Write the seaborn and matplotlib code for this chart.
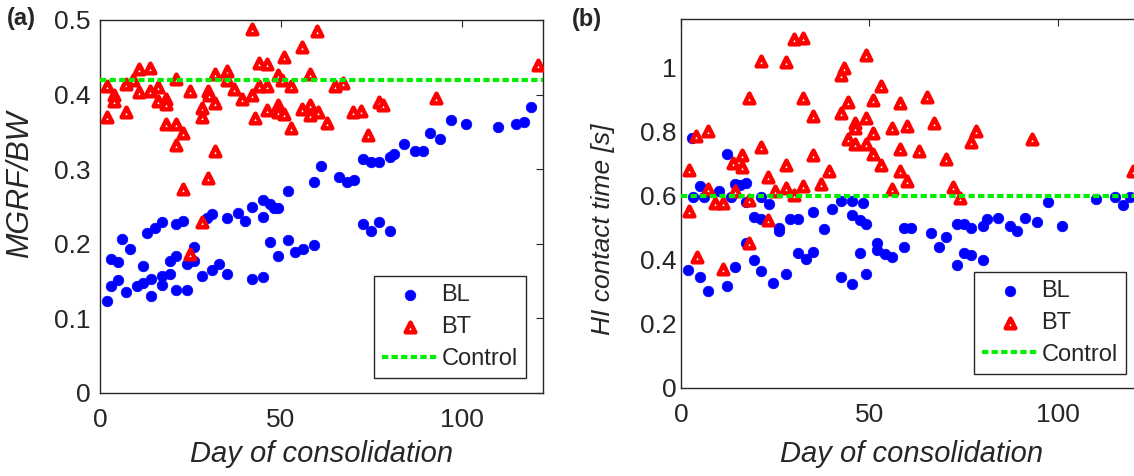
import matplotlib
matplotlib.use("Agg")
import matplotlib.pyplot as plt
import seaborn as sns
import numpy as np

# panel (a): MGRF/BW
bl_day_a = [1.8, 2.9, 2.9, 5.1, 5.1, 6.1, 7.1, 8.2, 10.1, 11.8, 11.9, 14.0, 14.0, 13.0, 15.1, 17.1, 17.0, 17.1,
            19.2, 19.2, 20.9, 20.9, 20.9, 23.0, 23.9, 23.9, 26.1, 26.1, 28.2, 30.8, 30.8, 33.0, 35.0, 35.0, 38.0,
            40.1, 41.9, 41.9, 44.9, 44.9, 44.9, 47.0, 48.2, 49.3, 47.0, 49.3, 51.9, 51.9, 54.0, 56.0, 59.1, 59.1,
            61.1, 66.0, 68.1, 70.2, 72.7, 74.9, 77.1, 80.0, 81.2, 84.0, 87.0, 89.1, 91.1, 93.9, 97.0, 101.0,
            110.0, 114.8, 117.0, 119.0, 72.7, 74.9, 77.1, 80.0, 29.5]
bl_mgrf = [0.123, 0.144, 0.180, 0.151, 0.176, 0.207, 0.136, 0.193, 0.144, 0.148, 0.170, 0.130, 0.153, 0.215,
           0.221, 0.229, 0.145, 0.157, 0.160, 0.177, 0.138, 0.184, 0.226, 0.230, 0.138, 0.173, 0.177, 0.196,
           0.157, 0.240, 0.165, 0.173, 0.159, 0.234, 0.241, 0.231, 0.249, 0.153, 0.155, 0.259, 0.236, 0.253,
           0.248, 0.248, 0.203, 0.183, 0.205, 0.271, 0.189, 0.193, 0.199, 0.283, 0.304, 0.290, 0.283, 0.286,
           0.313, 0.309, 0.309, 0.316, 0.321, 0.334, 0.324, 0.324, 0.348, 0.341, 0.366, 0.361, 0.357, 0.361,
           0.363, 0.383, 0.227, 0.217, 0.229, 0.217, 0.234]
bt_day_a = [1.8, 1.8, 3.9, 3.9, 7.1, 7.1, 9.0, 10.8, 10.8, 13.8, 13.8, 16.1, 16.1, 18.1, 18.1, 18.1, 21.0, 21.0,
            21.0, 23.0, 23.0, 24.9, 24.9, 28.2, 28.2, 28.2, 29.9, 30.2, 29.9, 31.9, 31.9, 31.9, 35.0, 35.0, 37.0,
            39.1, 41.9, 41.9, 42.8, 43.8, 43.8, 46.2, 46.2, 46.0, 49.1, 49.1, 49.1, 50.2, 50.9, 50.7, 52.8, 52.8,
            55.8, 55.8, 57.9, 57.9, 57.9, 60.0, 60.3, 62.6, 64.9, 67.2, 69.8, 72.0, 73.9, 77.0, 78.1, 92.8, 121.1]
bt_mgrf = [0.412, 0.370, 0.400, 0.391, 0.414, 0.376, 0.420, 0.434, 0.404, 0.436, 0.405, 0.410, 0.391, 0.394,
           0.387, 0.360, 0.421, 0.360, 0.333, 0.349, 0.273, 0.405, 0.186, 0.382, 0.370, 0.229, 0.405, 0.400,
           0.288, 0.427, 0.389, 0.325, 0.432, 0.419, 0.408, 0.394, 0.488, 0.399, 0.369, 0.442, 0.412, 0.441,
           0.412, 0.380, 0.426, 0.386, 0.377, 0.420, 0.374, 0.451, 0.412, 0.355, 0.464, 0.381, 0.428, 0.386,
           0.372, 0.485, 0.377, 0.362, 0.412, 0.415, 0.376, 0.378, 0.346, 0.390, 0.386, 0.395, 0.440]
control_mgrf = 0.42

# panel (b): HI contact time
bl_day_b = [1.9, 2.9, 3.1, 5.0, 5.0, 7.2, 6.1, 10.1, 12.1, 12.1, 13.2, 14.3, 14.3, 15.6, 17.2, 17.2, 17.2, 19.4,
            19.4, 21.2, 21.2, 21.2, 23.3, 24.4, 26.0, 26.0, 28.0, 28.9, 31.1, 31.1, 33.2, 35.1, 35.1, 38.0, 40.2,
            42.4, 42.4, 45.3, 45.3, 45.3, 47.5, 47.5, 48.2, 49.1, 49.1, 52.1, 52.1, 54.1, 56.1, 59.2, 59.2, 61.2,
            66.3, 68.4, 70.4, 73.3, 75.2, 77.1, 73.3, 75.2, 77.1, 80.2, 80.2, 81.3, 84.2, 87.3, 89.2, 91.3, 94.4,
            97.4, 101.2, 110.3, 115.3, 117.3, 119.1]
bl_hi = [0.369, 0.780, 0.596, 0.632, 0.346, 0.304, 0.598, 0.617, 0.730, 0.320, 0.598, 0.637, 0.379, 0.634,
         0.640, 0.582, 0.452, 0.535, 0.400, 0.527, 0.367, 0.598, 0.576, 0.327, 0.499, 0.491, 0.356, 0.527,
         0.527, 0.421, 0.402, 0.551, 0.424, 0.496, 0.558, 0.585, 0.348, 0.585, 0.541, 0.324, 0.525, 0.421,
         0.579, 0.512, 0.356, 0.454, 0.431, 0.418, 0.410, 0.499, 0.439, 0.499, 0.483, 0.439, 0.471, 0.512,
         0.512, 0.499, 0.384, 0.423, 0.416, 0.400, 0.507, 0.528, 0.532, 0.507, 0.492, 0.532, 0.520, 0.582,
         0.507, 0.592, 0.598, 0.571, 0.598]
bt_day_b = [2.2, 2.2, 4.0, 4.2, 7.2, 7.2, 9.0, 11.2, 11.1, 13.9, 14.3, 16.3, 16.3, 18.1, 18.1, 18.1, 21.2, 21.2,
            23.2, 23.2, 25.0, 28.0, 28.0, 28.0, 30.1, 30.1, 32.3, 32.3, 32.3, 35.1, 35.1, 37.1, 39.2, 42.4, 43.2,
            42.4, 44.4, 44.4, 46.3, 46.3, 46.3, 49.1, 49.1, 49.1, 51.0, 51.0, 51.0, 53.1, 53.1, 56.1, 56.1, 58.1,
            58.1, 58.1, 59.9, 59.9, 65.2, 67.2, 63.2, 70.3, 72.2, 74.0, 77.0, 78.3, 93.3, 120.0]
bt_hi = [0.681, 0.553, 0.788, 0.408, 0.803, 0.621, 0.577, 0.577, 0.371, 0.704, 0.614, 0.728, 0.692, 0.907,
         0.587, 0.454, 1.022, 0.754, 0.660, 0.525, 0.614, 1.017, 0.697, 0.626, 1.090, 0.603, 1.093, 0.905,
         0.632, 0.850, 0.728, 0.637, 0.679, 0.978, 1.001, 0.858, 0.892, 0.779, 0.829, 0.811, 0.763, 1.041,
         0.843, 0.763, 0.900, 0.796, 0.730, 0.944, 0.696, 0.811, 0.621, 0.890, 0.747, 0.679, 0.819, 0.647,
         0.908, 0.829, 0.739, 0.715, 0.629, 0.593, 0.770, 0.803, 0.778, 0.679]
control_hi = 0.6

sns.set_style("white")
plt.rcParams['font.family'] = ['Liberation Sans', 'DejaVu Sans']

fig = plt.figure(figsize=(11.34, 4.76), dpi=100)
ax1 = fig.add_axes([0.0882, 0.1744, 0.3904, 0.7836])
ax2 = fig.add_axes([0.6005, 0.1849, 0.4062, 0.7746])

green = "#00ee00"
txt = "#262626"


def draw_panel(ax, bl_x, bl_y, bt_x, bt_y, ctrl):
    sns.scatterplot(x=bl_x, y=bl_y, ax=ax, marker="o", s=58, color="#0000ff",
                    edgecolor="#0000ff", linewidth=0.5, label="BL", zorder=3)
    sns.scatterplot(x=bt_x, y=bt_y, ax=ax, marker="^", s=48, color="white",
                    edgecolor="#ff0000", linewidth=3.2, label="BT", zorder=4)
    ax.axhline(ctrl, color=green, lw=3, dashes=(1.5, 0.8), label="Control", zorder=5)
    ax.set_xlim(0, 122.3)
    ax.set_xticks([0, 50, 100])
    ax.tick_params(direction="in", length=5, top=True, right=True, labelsize=19,
                   colors=txt, width=0.8)
    ax.tick_params(axis="x", pad=11)
    for s in ax.spines.values():
        s.set_visible(True)
        s.set_color(txt)
        s.set_linewidth(1.0)
    ax.set_xlabel("Day of consolidation", fontsize=21, style="italic", color=txt)


def add_legend(ax, anchor):
    leg = ax.legend(loc="lower right", bbox_to_anchor=anchor, borderaxespad=0, fontsize=17,
                    frameon=True, fancybox=False, edgecolor=txt, framealpha=1, handlelength=2.3,
                    borderpad=0.35, labelspacing=0.42, handletextpad=0.2)
    leg.get_frame().set_linewidth(1.0)


draw_panel(ax1, bl_day_a, bl_mgrf, bt_day_a, bt_mgrf, control_mgrf)
ax1.set_ylim(0, 0.5)
ax1.set_yticks([0, 0.1, 0.2, 0.3, 0.4, 0.5])
ax1.set_yticklabels(["0", "0.1", "0.2", "0.3", "0.4", "0.5"])
ax1.tick_params(axis="y", pad=7)
ax1.set_ylabel("MGRF/BW", fontsize=22, style="italic", color=txt)
ax1.yaxis.set_label_coords(-0.146, 0.56)
ax1.xaxis.set_label_coords(0.5, -0.126)
add_legend(ax1, (0.962, 0.04))

draw_panel(ax2, bl_day_b, bl_hi, bt_day_b, bt_hi, control_hi)
ax2.set_ylim(0, 1.152)
ax2.set_yticks([0, 0.2, 0.4, 0.6, 0.8, 1.0])
ax2.set_yticklabels(["0", "0.2", "0.4", "0.6", "0.8", "1"])
ax2.tick_params(axis="y", pad=3)
ax2.set_ylabel("HI contact time [s]", fontsize=19, style="italic", color=txt)
ax2.yaxis.set_label_coords(-0.143, 0.43)
ax2.xaxis.set_label_coords(0.5, -0.141)
add_legend(ax2, (0.966, 0.038))

fig.text(0.006, 0.962, "(a)", fontsize=17, fontweight="bold", va="center", ha="left")
fig.text(0.504, 0.958, "(b)", fontsize=17, fontweight="bold", va="center", ha="left")

fig.savefig("out.png", dpi=100)
